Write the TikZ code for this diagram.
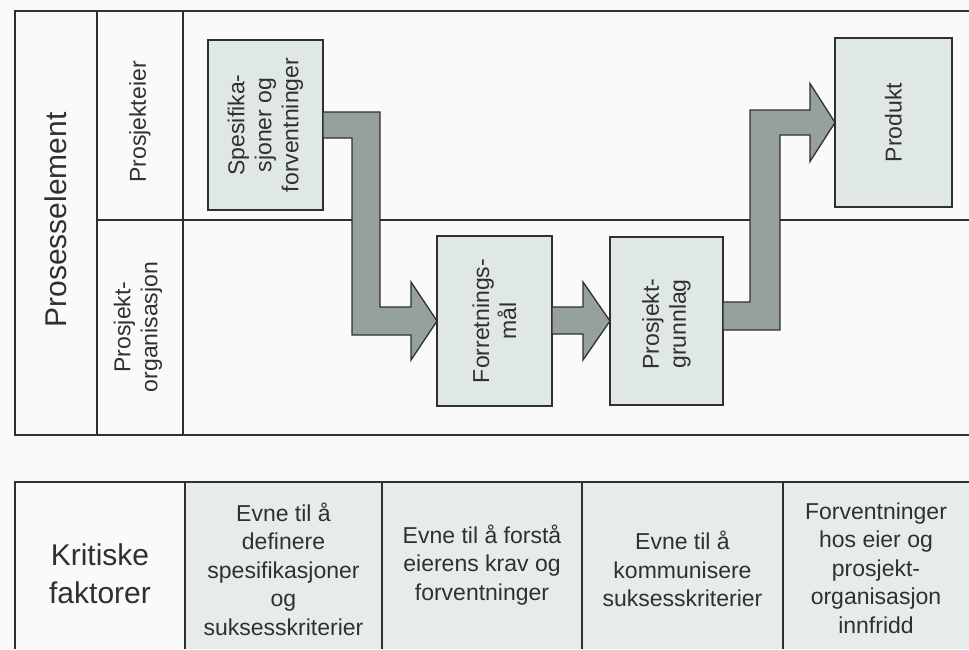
\documentclass[tikz,border=0pt]{standalone}
\usepackage{fontspec}
\setmainfont{Liberation Sans}
\usetikzlibrary{calc}

\definecolor{ink}{HTML}{303030}
\definecolor{paper}{HTML}{FAFAF8}
\definecolor{boxfill}{HTML}{DFE8E6}
\definecolor{cellfill}{HTML}{E5ECEA}
\definecolor{arrowfill}{HTML}{97A19C}

\begin{document}
\begin{tikzpicture}[x=1pt,y=-1pt,
  grid/.style={draw=ink, line width=1.6pt},
  stage/.style={draw=ink, line width=1.5pt, fill=boxfill, inner sep=0pt, outer sep=0pt,
                minimum width=115pt, minimum height=170pt},
  lbl/.style={rotate=90, align=center, text=ink, inner sep=0pt,
              font=\fontsize{23}{27}\selectfont},
  celltext/.style={align=center, text=ink, inner sep=0pt,
                   font=\fontsize{23}{28.5}\selectfont},
  bigtext/.style={align=center, text=ink, inner sep=0pt,
                  font=\fontsize{30}{38}\selectfont},
  blockarrow/.style={draw=ink, line width=1.3pt, fill=arrowfill, line join=miter}
]
\useasboundingbox (0,0) rectangle (969,649);
\fill[paper] (0,0) rectangle (969,649);

% ---------- upper table: process elements ----------
\draw[grid] (969,11) -- (15,11) -- (15,435) -- (969,435);
\draw[grid] (97,11) -- (97,435);
\draw[grid] (183,11) -- (183,435);
\draw[grid] (97,220) -- (969,220);

\node[bigtext, rotate=90] (prosess) at (56,220) {Prosesselement};
\node[lbl] (eier) at (140,122) {Prosjekteier};
\node[lbl] (org) at (138,327) {Prosjekt-\\organisasjon};

% stages
\node[stage] (spes)  at (265.5,125) {};
\node[stage] (forr)  at (494.5,321) {};
\node[stage, minimum width=113pt, minimum height=168pt] (grunn) at (666.5,321) {};
\node[stage, minimum width=117pt, minimum height=169pt] (prod)  at (893.5,122.5) {};

\coordinate (a1) at (366,0);
\coordinate (a3) at (765,0);

% block arrows between the stages
\draw[blockarrow]
  ($(spes.east)+(0,-13)$) -- ($(spes.east -| a1)+(14,-13)$)
  -- ($(forr.west -| a1)+(14,-14)$) -- ($(forr.west)+(-26,-14)$)
  -- ($(forr.west)+(-26,-39)$) -- (forr.west) -- ($(forr.west)+(-26,39)$)
  -- ($(forr.west)+(-26,14)$) -- ($(forr.west -| a1)+(-14,14)$)
  -- ($(spes.east -| a1)+(-14,13)$) -- ($(spes.east)+(0,13)$) -- cycle;

\draw[blockarrow]
  ($(forr.east)+(0,-14)$) -- ($(grunn.west)+(-27,-14)$)
  -- ($(grunn.west)+(-27,-39)$) -- (grunn.west) -- ($(grunn.west)+(-27,39)$)
  -- ($(grunn.west)+(-27,13)$) -- ($(forr.east)+(0,13)$) -- cycle;

\draw[blockarrow]
  ($(grunn.east)+(0,-19)$) -- ($(grunn.east -| a3)+(-15,-19)$)
  -- ($(prod.west -| a3)+(-15,-12.5)$) -- ($(prod.west)+(-25,-12.5)$)
  -- ($(prod.west)+(-25,-39)$) -- (prod.west) -- ($(prod.west)+(-25,39)$)
  -- ($(prod.west)+(-25,12.5)$) -- ($(prod.west -| a3)+(15,12.5)$)
  -- ($(grunn.east -| a3)+(15,9)$) -- ($(grunn.east)+(0,9)$) -- cycle;

% stage labels
\node[lbl] (spestxt)  at (spes)  {Spesifika-\\sjoner og\\forventninger};
\node[lbl] (forrtxt)  at (forr)  {Forretnings-\\mål};
\node[lbl] (grunntxt) at ([yshift=-3pt]grunn.center) {Prosjekt-\\grunnlag};
\node[lbl] (prodtxt)  at (prod)  {Produkt};

% ---------- lower table: critical factors ----------
\fill[cellfill] (185,482) rectangle (969,649);
\draw[grid] (969,482) -- (15,482) -- (15,649);
\foreach \xx in {185,382,582,783} \draw[grid] (\xx,482) -- (\xx,649);

\node[bigtext] (krit) at (100,574) {Kritiske\\faktorer};
\node[celltext] (f1) at (283.5,569) {Evne til å\\definere\\spesifikasjoner\\og\\suksesskriterier};
\node[celltext] (f2) at (482,565) {Evne til å forstå\\eierens krav og\\forventninger};
\node[celltext] (f3) at (682.5,569) {Evne til å\\kommunisere\\suksesskriterier};
\node[celltext] (f4) at (876,568) {Forventninger\\hos eier og\\prosjekt-\\organisasjon\\innfridd};
\end{tikzpicture}
\end{document}
